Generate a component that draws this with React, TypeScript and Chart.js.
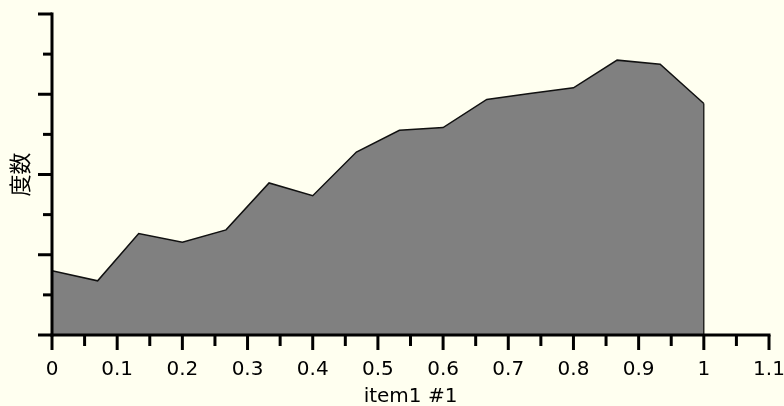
import React, { useEffect, useRef } from 'react';
import { Chart, registerables } from 'chart.js';

Chart.register(...registerables);

const xValues = [0, 0.07, 0.133, 0.2, 0.267, 0.333, 0.4, 0.467, 0.533, 0.6, 0.667, 0.733, 0.8, 0.867, 0.933, 1];
const frequency = [1.6, 1.35, 2.53, 2.31, 2.62, 3.79, 3.47, 4.56, 5.1, 5.17, 5.87, 6.02, 6.16, 6.85, 6.75, 5.77];
const xMajorTicks = [0, 0.1, 0.2, 0.3, 0.4, 0.5, 0.6, 0.7, 0.8, 0.9, 1, 1.1];
const xTickLabels = ['0', '0.1', '0.2', '0.3', '0.4', '0.5', '0.6', '0.7', '0.8', '0.9', '1', '1.1'];
const xMinorTicks = [0.05, 0.15, 0.25, 0.35, 0.45, 0.55, 0.65, 0.75, 0.85, 0.95, 1.05];
const yMajorTicks = [0, 2, 4, 6, 8];
const yMinorTicks = [1, 3, 5, 7];
const xTitle = 'item1 #1';
const yTitle = '度数';

const BG = '#FFFFF0';

const axesPlugin = {
  id: 'customAxes',
  afterDraw(chart: any) {
    const ctx = chart.ctx;
    const xs = chart.scales.x;
    const ys = chart.scales.y;
    const x0 = xs.getPixelForValue(0);
    const y0 = ys.getPixelForValue(0);
    const yTop = ys.getPixelForValue(8);
    const xEnd = xs.getPixelForValue(1.1);
    ctx.save();
    ctx.strokeStyle = '#000';
    ctx.fillStyle = '#000';
    // closing edge of the area
    const meta = chart.getDatasetMeta(0);
    const last = meta.data[meta.data.length - 1];
    ctx.lineWidth = 1.2;
    ctx.beginPath();
    ctx.moveTo(last.x, last.y);
    ctx.lineTo(last.x, y0);
    ctx.stroke();
    // axis lines
    ctx.lineWidth = 3;
    ctx.lineCap = 'butt';
    ctx.beginPath();
    ctx.moveTo(x0, yTop - 1.5);
    ctx.lineTo(x0, y0 + 1.5);
    ctx.stroke();
    ctx.beginPath();
    ctx.moveTo(x0 - 1.5, y0);
    ctx.lineTo(xEnd + 1.5, y0);
    ctx.stroke();
    // y ticks
    yMajorTicks.forEach((v) => {
      const y = ys.getPixelForValue(v);
      ctx.beginPath();
      ctx.moveTo(x0 - 14, y);
      ctx.lineTo(x0, y);
      ctx.stroke();
    });
    yMinorTicks.forEach((v) => {
      const y = ys.getPixelForValue(v);
      ctx.beginPath();
      ctx.moveTo(x0 - 9, y);
      ctx.lineTo(x0, y);
      ctx.stroke();
    });
    // x ticks
    xMajorTicks.forEach((v) => {
      const x = xs.getPixelForValue(v);
      ctx.beginPath();
      ctx.moveTo(x, y0);
      ctx.lineTo(x, y0 + 15);
      ctx.stroke();
    });
    xMinorTicks.forEach((v) => {
      const x = xs.getPixelForValue(v);
      ctx.beginPath();
      ctx.moveTo(x, y0);
      ctx.lineTo(x, y0 + 11);
      ctx.stroke();
    });
    // x tick labels
    ctx.font = '20px "DejaVu Sans"';
    ctx.textAlign = 'center';
    ctx.textBaseline = 'middle';
    xMajorTicks.forEach((v, i) => {
      ctx.fillText(xTickLabels[i], xs.getPixelForValue(v), y0 + 35);
    });
    // x title
    ctx.fillText(xTitle, (x0 + xEnd) / 2, y0 + 62);
    // y title
    ctx.font = '22px "Noto Sans CJK JP"';
    ctx.translate(20, (yTop + y0) / 2);
    ctx.rotate(-Math.PI / 2);
    ctx.fillText(yTitle, 0, 0);
    ctx.restore();
  },
};

export default function App() {
  const ref = useRef<HTMLCanvasElement | null>(null);
  useEffect(() => {
    if (!ref.current) return;
    const chart = new Chart(ref.current, {
      type: 'line',
      data: {
        datasets: [
          {
            data: xValues.map((x, i) => ({ x, y: frequency[i] })),
            fill: 'origin',
            backgroundColor: '#808080',
            borderColor: '#111',
            borderWidth: 1.5,
            pointRadius: 0,
            tension: 0,
          },
        ],
      },
      options: {
        animation: false,
        responsive: false,
        events: [],
        layout: { padding: { left: 52, right: 15, top: 14, bottom: 71 } },
        plugins: { legend: { display: false }, tooltip: { enabled: false } },
        scales: {
          x: { type: 'linear', min: 0, max: 1.1, display: false },
          y: { type: 'linear', min: 0, max: 8, display: false },
        },
      },
      plugins: [axesPlugin],
    });
    return () => chart.destroy();
  }, []);
  return (
    <div style={{ position: 'fixed', left: 0, top: 0, width: 784, height: 406, background: BG }}>
      <canvas ref={ref} width={784} height={406} style={{ display: 'block' }} />
    </div>
  );
}
